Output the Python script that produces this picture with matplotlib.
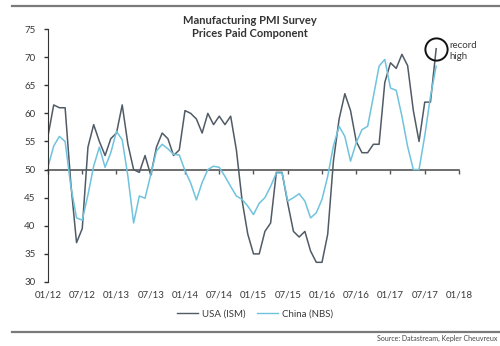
import numpy as np
import matplotlib
matplotlib.use("Agg")
import matplotlib.pyplot as plt
from matplotlib.lines import Line2D

# monthly data, Jan 2012 .. Sep 2017
usa_ism = [56.0, 61.5, 61.0, 61.0, 47.5, 37.0, 39.5, 54.0, 58.0, 55.0, 52.5, 55.5,
           56.5, 61.5, 54.5, 50.0, 49.5, 52.5, 49.0, 54.0, 56.5, 55.5, 52.5, 53.5,
           60.5, 60.0, 59.0, 56.5, 60.0, 58.0, 59.5, 58.0, 59.5, 53.5, 44.5, 38.5,
           35.0, 35.0, 39.0, 40.5, 49.5, 49.5, 44.0, 39.0, 38.0, 39.0, 35.5, 33.5,
           33.5, 38.5, 51.5, 59.0, 63.5, 60.5, 55.0, 53.0, 53.0, 54.5, 54.5, 65.5,
           69.0, 68.0, 70.5, 68.5, 60.5, 55.0, 62.0, 62.0, 71.5]
china_nbs = [50.5, 54.2, 55.9, 55.0, 47.0, 41.4, 41.0, 45.5, 50.6, 54.0, 50.4, 53.0,
             56.8, 55.3, 48.8, 40.5, 45.3, 44.9, 49.1, 53.3, 54.5, 53.7, 52.7, 52.6,
             49.8, 47.6, 44.6, 47.7, 50.0, 50.6, 50.4, 48.8, 47.0, 45.3, 44.7, 43.5,
             42.0, 44.0, 45.0, 47.0, 49.4, 49.4, 44.4, 45.0, 45.7, 44.4, 41.4, 42.3,
             44.7, 48.8, 54.2, 57.7, 55.9, 51.5, 54.8, 57.1, 57.7, 63.0, 68.4, 69.6,
             64.5, 64.1, 59.5, 54.1, 50.0, 50.0, 56.0, 63.0, 68.4]
tick_labels = ['01/12', '07/12', '01/13', '07/13', '01/14', '07/14', '01/15',
               '07/15', '01/16', '07/16', '01/17', '07/17', '01/18']

usa_col = '#505b66'
china_col = '#6fc3dd'
txt_col = '#3a3a3a'
plt.rcParams['font.family'] = ['Lato', 'DejaVu Sans']

months = np.arange(len(usa_ism))
tick_pos = np.arange(len(tick_labels)) * 6

fig = plt.figure(figsize=(5, 3.46), dpi=100)
ax = fig.add_axes([0.096, 0.185, 0.822, 0.731])

ax.plot(months, usa_ism, color=usa_col, lw=1.1, label='USA (ISM)')
ax.plot(months, china_nbs, color=china_col, lw=1.1, label='China (NBS)')
ax.plot(months[-1], usa_ism[-1], 'o', ms=16, mfc='none', mec='#111111', mew=1.4)
ax.text(months[-1] + 2.4, usa_ism[-1] - 0.4, 'record\nhigh', fontsize=7,
        color=txt_col, va='center', ha='left', linespacing=1.25)

ax.set_xlim(0, 72)
ax.set_ylim(30, 75)
ax.set_yticks(np.arange(30, 76, 5))
ax.tick_params(axis='y', direction='out', length=3, width=1, colors='#333333',
               labelsize=7, labelcolor=txt_col, pad=6)
ax.set_xticks(tick_pos)
ax.set_xticklabels(tick_labels)
ax.tick_params(axis='x', length=0, labelsize=7, labelcolor=txt_col, pad=6)
for s in ['top', 'right', 'bottom']:
    ax.spines[s].set_visible(False)
ax.spines['left'].set_color('#333333')

# the 50 line acts as the x axis
sec = ax.secondary_xaxis((50 - 30) / 45)
sec.set_xticks(tick_pos)
sec.tick_params(axis='x', direction='out', length=3, width=1, colors='#555555',
                labelbottom=False, labeltop=False)
sec.spines['bottom'].set_color('#555555')
sec.spines['bottom'].set_linewidth(1.2)

fig.text(0.5, 0.923, 'Manufacturing PMI Survey\nPrices Paid Component', ha='center',
         va='center', fontsize=8, fontweight='bold', color='#333333', linespacing=1.2)

handles = [Line2D([], [], color=usa_col, lw=1.0), Line2D([], [], color=china_col, lw=1.0)]
fig.legend(handles, ['USA (ISM)', 'China (NBS)'], loc='center', ncol=2,
           bbox_to_anchor=(0.51, 0.093), frameon=False, fontsize=7, handlelength=2.2,
           handletextpad=0.4, columnspacing=1.2, labelcolor=txt_col)

fig.add_artist(Line2D([0.024, 1.0], [0.983, 0.983], color='#7a7a7a', lw=1.6))
fig.add_artist(Line2D([0.024, 1.0], [0.041, 0.041], color='#7a7a7a', lw=1.6))
fig.text(0.994, 0.022, 'Source: Datastream, Kepler Cheuvreux', ha='right', va='center',
         fontsize=5, color='#444444')

fig.savefig('out.png', dpi=100, facecolor='white')
